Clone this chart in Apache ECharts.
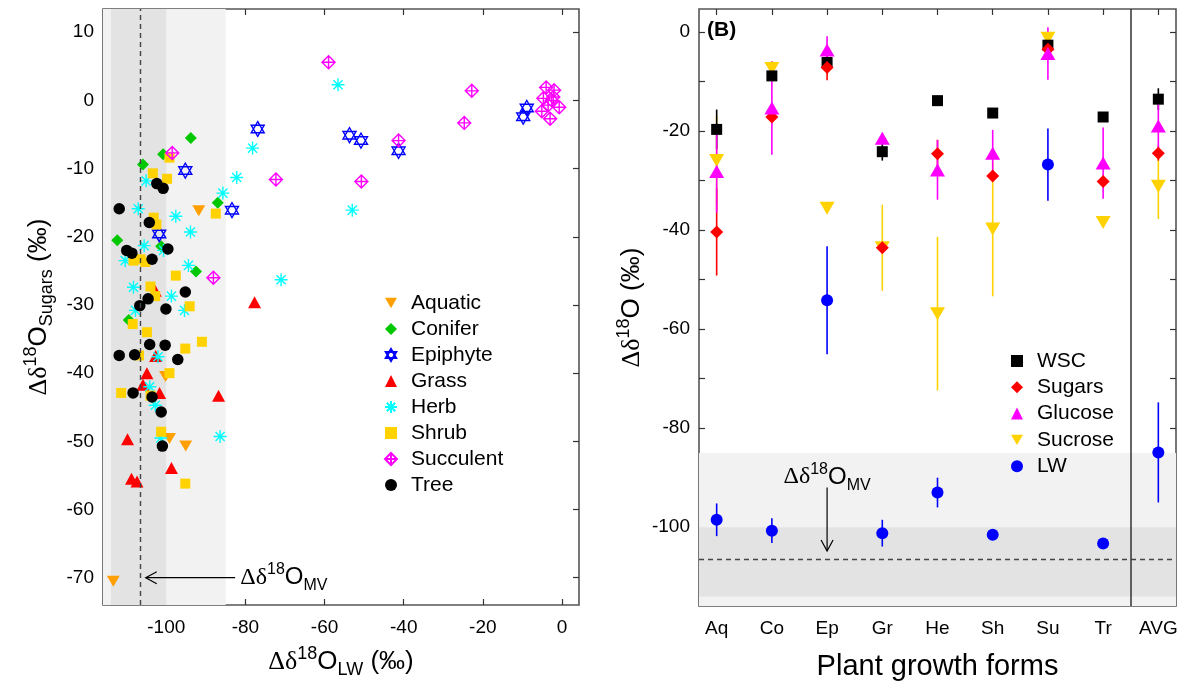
<!DOCTYPE html>
<html><head><meta charset="utf-8">
<script src="https://cdn.jsdelivr.net/npm/echarts@6.0.0/dist/echarts.min.js"></script>
<style>html,body{margin:0;padding:0;background:#fff}#c{width:1187px;height:693px}</style>
</head><body><div id="c"></div>
<script>
// ---------- Panel A data: [Δδ18O_LW, Δδ18O_Sugars] ----------
const aquatic = [[-113.4,-70.5],[-91.8,-16.2],[-100.2,-40.5],[-99.2,-49.6],[-95.1,-50.7]];
const conifer = [[-105.9,-9.4],[-100.8,-7.9],[-93.8,-5.5],[-87.0,-15.0],[-112.4,-20.5],[-101.3,-21.4],[-92.5,-25.1],[-109.5,-32.2]];
const epiphyte = [[-95.2,-10.3],[-83.4,-16.1],[-101.8,-19.6],[-76.9,-4.2],[-53.7,-5.1],[-50.8,-5.9],[-41.3,-7.4],[-8.9,-1.1],[-9.8,-2.4]];
const grass = [[-104.9,-40.0],[-105.9,-41.7],[-101.7,-42.9],[-86.8,-43.3],[-109.8,-49.7],[-108.8,-55.5],[-107.4,-55.9],[-98.7,-53.9],[-102.7,-37.5],[-102.8,-27.9],[-77.7,-29.6]];
const herb = [[-105.1,-11.8],[-85.7,-13.6],[-82.2,-11.3],[-78.2,-7.0],[-56.6,2.3],[-53.0,-16.1],[-71.0,-26.3],[-107.1,-15.9],[-97.6,-17.0],[-93.9,-19.3],[-105.6,-21.3],[-110.4,-23.5],[-100.7,-22.0],[-94.4,-24.2],[-108.3,-27.4],[-98.7,-28.7],[-95.4,-30.8],[-107.8,-30.8],[-102.1,-37.6],[-104.2,-42.0],[-102.8,-44.7],[-101.4,-49.5],[-86.4,-49.3]];
const shrub = [[-103.4,-10.7],[-99.2,-8.4],[-99.8,-11.5],[-87.5,-16.6],[-103.2,-17.2],[-102.5,-18.2],[-108.3,-23.5],[-106.5,-23.3],[-105.3,-23.7],[-97.6,-25.7],[-104.0,-27.3],[-102.8,-28.7],[-94.1,-30.2],[-108.5,-32.8],[-104.9,-34.0],[-95.2,-36.4],[-91.0,-35.4],[-106.9,-37.4],[-99.2,-40.0],[-111.4,-42.9],[-104.0,-43.3],[-101.3,-48.6],[-95.2,-56.2]];
const succulent = [[-98.5,-7.7],[-88.1,-26.0],[-59.0,5.6],[-72.3,-11.6],[-50.7,-11.9],[-22.8,1.4],[-24.7,-3.3],[-41.3,-5.9],[-4.0,1.9],[-2.0,1.5],[-4.7,0.3],[-2.6,0.0],[-3.5,-0.7],[-0.7,-1.0],[-5.1,-1.6],[-3.0,-2.7],[-2.2,0.5]];
const tree = [[-102.4,-12.2],[-100.8,-12.9],[-111.9,-15.9],[-104.3,-17.9],[-110.0,-22.0],[-108.7,-22.4],[-99.6,-21.8],[-103.6,-23.3],[-95.2,-28.1],[-104.6,-29.1],[-106.7,-30.1],[-100.1,-30.6],[-104.2,-35.8],[-100.3,-35.9],[-111.9,-37.4],[-108.0,-37.3],[-97.1,-38.0],[-108.4,-42.9],[-103.6,-43.5],[-101.3,-45.7],[-101.0,-50.7]];
const xTicksA = [-100,-80,-60,-40,-20,0];
const yTicksA = [-70,-60,-50,-40,-30,-20,-10,0,10];

// ---------- Panel B data ----------
const categories = ['Aq','Co','Ep','Gr','He','Sh','Su','Tr','AVG'];
const wsc       = [-19.7,-8.9,-6.2,-24.2,-13.9,-16.4,-2.7,-17.2,-13.6];
const wscErr    = [4.0,1.0,1.0,1.8,1.0,0.6,0.8,0.8,2.2];
const sugars    = [-40.4,-17.2,-7.2,-43.6,-24.6,-29.1,-3.5,-30.2,-24.5];
const sugarsErr = [8.8,1.0,2.6,1.0,2.8,1.0,1.0,1.0,1.5];
const glucose   = [-28.2,-15.4,-3.7,-21.5,-27.9,-24.5,-4.4,-26.5,-19.0];
const glucoseErr= [8.3,9.4,2.8,1.0,6.0,4.7,5.3,7.2,5.0];
const sucrose   = [-26.0,-7.4,-35.6,-43.6,-56.9,-39.8,-1.3,-38.5,-31.2];
const sucroseErr= [9.0,1.5,0.5,8.7,15.5,13.6,0.5,0.5,6.6];
const lw        = [-98.5,-100.7,-54.2,-101.2,-93.0,-101.5,-26.8,-103.3,-84.9];
const lwErr     = [3.3,2.5,10.9,2.7,3.0,0.5,7.3,0.5,10.1];
const yTicksB = [-110,-100,-90,-80,-70,-60,-50,-40,-30,-20,-10,0];
const yLabelsB = [-100,-80,-60,-40,-20,0];

// ---------- reference values (MV band) ----------
const mvValue = -106.5;
const mvDark = [-114, -100];
const mvLight = [-116, -85];

// ---------- styling ----------
const F = "'Liberation Sans', Arial, sans-serif";
const SERIF = "'Liberation Serif', 'Times New Roman', serif";
const C = {aquatic:'#FF9F00', conifer:'#00C800', epiphyte:'#0000FF', grass:'#FF0000', herb:'#00FFFF',
  shrub:'#FFD200', succulent:'#FF00FF', tree:'#000000',
  wsc:'#000000', sugars:'#FF0000', glucose:'#FF00FF', sucrose:'#FFD200', lw:'#0000FF'};
const SYM = {
  down:'path://M0,0L10,0L5,8.66Z',
  hexa:'path://M5,0L10,8.66L0,8.66Z M0,2.89L10,2.89L5,11.55Z',
  aster:'path://M0,5L10,5 M5,0L5,10 M1.5,1.5L8.5,8.5 M8.5,1.5L1.5,8.5',
  succ:'path://M5,0L10,5L5,10L0,5Z M5,0L5,10 M0,5L10,5'
};
function rich(big, small){
  return {
    d:{fontFamily:SERIF, fontSize:big, lineHeight:big+8, verticalAlign:'middle', color:'#000'},
    o:{fontFamily:F, fontSize:big, lineHeight:big+8, verticalAlign:'middle', color:'#000'},
    sup:{fontFamily:F, fontSize:small, lineHeight:small, verticalAlign:'top', color:'#000'},
    sub:{fontFamily:F, fontSize:small, lineHeight:small, verticalAlign:'bottom', color:'#000'}
  };
}
const tickStyle = {inside:true, length:6, lineStyle:{color:'#333', width:1.2}};
const labelStyle = {color:'#000', fontFamily:F, fontSize:19};
const noLine = {show:false, onZero:false};

function scatterA(name, data, symbol, size, color, outline){
  return {type:'scatter', name, data, xAxisIndex:0, yAxisIndex:0, symbol, symbolSize:size,
    itemStyle: outline ? {color:'transparent', borderColor:color, borderWidth:1.4, opacity:1} : {color, opacity:1},
    emphasis:{disabled:true}, z:3};
}
function scatterB(name, vals, symbol, size, color, z){
  return {type:'scatter', name, data: vals.map((v,i)=>[i,v]), xAxisIndex:2, yAxisIndex:2,
    symbol, symbolSize:size, itemStyle:{color, opacity:1}, emphasis:{disabled:true}, z};
}
function errB(vals, errs, color){
  return {type:'custom', xAxisIndex:2, yAxisIndex:2, z:2, silent:true,
    data: vals.map((v,i)=>[i, v, errs[i]]),
    encode:{x:0, y:1},
    renderItem(params, api){
      const x = api.value(0), y = api.value(1), e = api.value(2);
      const p1 = api.coord([x, y+e]), p2 = api.coord([x, y-e]);
      return {type:'line', shape:{x1:p1[0], y1:p1[1], x2:p2[0], y2:p2[1]},
        style:{stroke:color, lineWidth:1.6}};
    }};
}
function arrowAnno(xAxisIndex, yAxisIndex, from, to, textPos, textAlign){
  return {type:'custom', xAxisIndex, yAxisIndex, z:4, silent:true, clip:false,
    data:[[from[0], from[1]]], encode:{x:0, y:1},
    renderItem(params, api){
      const a = api.coord(from), b = api.coord(to), t = api.coord(textPos);
      const dx = b[0]-a[0], dy = b[1]-a[1], L = Math.hypot(dx,dy);
      const ux = dx/L, uy = dy/L, px = -uy, py = ux, h = 11, w = 6;
      return {type:'group', children:[
        {type:'line', shape:{x1:a[0], y1:a[1], x2:b[0], y2:b[1]}, style:{stroke:'#000', lineWidth:1.2}},
        {type:'polyline', shape:{points:[[b[0]-ux*h+px*w, b[1]-uy*h+py*w],[b[0],b[1]],[b[0]-ux*h-px*w, b[1]-uy*h-py*w]]},
          style:{stroke:'#000', lineWidth:1.2, fill:null}},
        {type:'text', x:t[0], y:t[1], style:{text:'{d|Δδ}{sup|18}{o|O}{sub|MV}', rich:rich(24,16),
          align:textAlign, verticalAlign:'middle'}}
      ]};
    }};
}

const option = {
  animation:false,
  backgroundColor:'#fff',
  grid:[
    {left:103, top:9, width:476, height:596, show:true, borderColor:'#555', borderWidth:1.6, backgroundColor:'transparent'},
    {left:699, top:9, width:477, height:597, show:true, borderColor:'#555', borderWidth:1.6, backgroundColor:'transparent'}
  ],
  xAxis:[
    {gridIndex:0, type:'value', min:-116, max:4.3, position:'bottom',
      axisLine:noLine, splitLine:{show:false},
      axisTick:Object.assign({customValues:xTicksA}, tickStyle),
      axisLabel:Object.assign({customValues:xTicksA, margin:13}, labelStyle),
      name:'{d|Δδ}{sup|18}{o|O}{sub|LW}{o| (‰)}', nameLocation:'middle', nameGap:40,
      nameTextStyle:{rich:rich(26,18)}},
    {gridIndex:0, type:'value', min:-116, max:4.3, position:'top',
      axisLine:noLine, splitLine:{show:false},
      axisTick:Object.assign({customValues:xTicksA}, tickStyle), axisLabel:{show:false}},
    {gridIndex:1, type:'value', min:-0.32, max:8.32, position:'bottom',
      axisLine:noLine, splitLine:{show:false},
      axisTick:Object.assign({customValues:categories.map((c,i)=>i)}, tickStyle),
      axisLabel:Object.assign({customValues:categories.map((c,i)=>i), margin:13,
        formatter:v=>categories[Math.round(v)]}, labelStyle),
      name:'Plant growth forms', nameLocation:'middle', nameGap:46,
      nameTextStyle:{fontFamily:F, fontSize:29, color:'#000'}},
    {gridIndex:1, type:'value', min:-0.32, max:8.32, position:'top',
      axisLine:noLine, splitLine:{show:false},
      axisTick:Object.assign({customValues:categories.map((c,i)=>i)}, tickStyle), axisLabel:{show:false}}
  ],
  yAxis:[
    {gridIndex:0, type:'value', min:-74, max:13.4, position:'left',
      axisLine:noLine, splitLine:{show:false},
      axisTick:Object.assign({customValues:yTicksA}, tickStyle),
      axisLabel:Object.assign({customValues:yTicksA, margin:9}, labelStyle),
      name:'{d|Δδ}{sup|18}{o|O}{sub|Sugars}{o| (‰)}', nameLocation:'middle', nameGap:47,
      nameTextStyle:{rich:rich(26,18)}},
    {gridIndex:0, type:'value', min:-74, max:13.4, position:'right',
      axisLine:noLine, splitLine:{show:false},
      axisTick:Object.assign({customValues:yTicksA}, tickStyle), axisLabel:{show:false}},
    {gridIndex:1, type:'value', min:-115.9, max:4.6, position:'left',
      axisLine:noLine, splitLine:{show:false},
      axisTick:Object.assign({customValues:yTicksB}, tickStyle),
      axisLabel:Object.assign({customValues:yLabelsB, margin:9}, labelStyle),
      name:'{d|Δδ}{sup|18}{o|O (‰)}', nameLocation:'middle', nameGap:50,
      nameTextStyle:{rich:rich(26,18)}},
    {gridIndex:1, type:'value', min:-115.9, max:4.6, position:'right',
      axisLine:noLine, splitLine:{show:false},
      axisTick:Object.assign({customValues:yTicksB}, tickStyle), axisLabel:{show:false}}
  ],
  legend:[
    {orient:'vertical', left:379, top:287, itemWidth:12, itemHeight:12, itemGap:4,
      textStyle:{fontFamily:F, fontSize:21, color:'#000', lineHeight:22, padding:[0,0,0,9]},
      selectedMode:false,
      data:['Aquatic','Conifer','Epiphyte','Grass','Herb','Shrub','Succulent','Tree']},
    {orient:'vertical', left:1006, top:345, itemWidth:12, itemHeight:12, itemGap:4.3,
      textStyle:{fontFamily:F, fontSize:21, color:'#000', lineHeight:22, padding:[0,0,0,9]},
      selectedMode:false,
      data:['WSC','Sugars','Glucose','Sucrose','LW']}
  ],
  series:[
    {type:'line', name:'bgA', xAxisIndex:0, yAxisIndex:0, data:[], z:1, silent:true,
      markArea:{silent:true, data:[
        [{xAxis:mvLight[0], itemStyle:{color:'#F2F2F2'}},{xAxis:mvLight[1]}],
        [{xAxis:mvDark[0], itemStyle:{color:'#E3E3E3'}},{xAxis:mvDark[1]}]
      ]},
      markLine:{silent:true, symbol:['none','none'], label:{show:false},
        lineStyle:{color:'#444', type:[5,4], width:1.4}, data:[{xAxis:mvValue}]}},
    {type:'line', name:'bgB', xAxisIndex:2, yAxisIndex:2, data:[], z:1, silent:true,
      markArea:{silent:true, data:[
        [{yAxis:mvLight[0], itemStyle:{color:'#F2F2F2'}},{yAxis:mvLight[1]}],
        [{yAxis:mvDark[0], itemStyle:{color:'#E3E3E3'}},{yAxis:mvDark[1]}]
      ]},
      markLine:{silent:true, symbol:['none','none'], label:{show:false},
        data:[{yAxis:mvValue, lineStyle:{color:'#444', type:[5,4], width:1.4}},
              {xAxis:7.5, lineStyle:{color:'#333', type:'solid', width:1.5}}]}},
    scatterA('Aquatic', aquatic, SYM.down, [13,11], C.aquatic, false),
    scatterA('Conifer', conifer, 'diamond', 12, C.conifer, false),
    scatterA('Epiphyte', epiphyte, SYM.hexa, [13,15], C.epiphyte, true),
    scatterA('Grass', grass, 'triangle', [13,12], C.grass, false),
    scatterA('Herb', herb, SYM.aster, 13, C.herb, true),
    scatterA('Shrub', shrub, 'rect', 10, C.shrub, false),
    scatterA('Succulent', succulent, SYM.succ, 13, C.succulent, true),
    scatterA('Tree', tree, 'circle', 11.5, C.tree, false),
    errB(sucrose, sucroseErr, C.sucrose),
    errB(wsc, wscErr, C.wsc),
    errB(sugars, sugarsErr, C.sugars),
    errB(glucose, glucoseErr, C.glucose),
    errB(lw, lwErr, C.lw),
    scatterB('Sucrose', sucrose, SYM.down, [15,13], C.sucrose, 3),
    scatterB('WSC', wsc, 'rect', 11, C.wsc, 3),
    scatterB('Sugars', sugars, 'diamond', 13, C.sugars, 3),
    scatterB('Glucose', glucose, 'triangle', [15,13], C.glucose, 3),
    scatterB('LW', lw, 'circle', 12, C.lw, 3),
    arrowAnno(0, 0, [-82.6,-70], [-105.2,-70], [-81.3,-70], 'left'),
    arrowAnno(2, 2, [2,-92], [2,-104.8], [2,-89.9], 'center')
  ],
  graphic:[
    {type:'text', left:112, top:20, style:{text:'(A)', fontFamily:F, fontSize:21, fontWeight:'bold', fill:'#000'}},
    {type:'text', left:707, top:20, style:{text:'(B)', fontFamily:F, fontSize:21, fontWeight:'bold', fill:'#000'}}
  ]
};
const chart = echarts.init(document.getElementById('c'), null, {renderer:'canvas'});
chart.setOption(option);
</script>
</body></html>
